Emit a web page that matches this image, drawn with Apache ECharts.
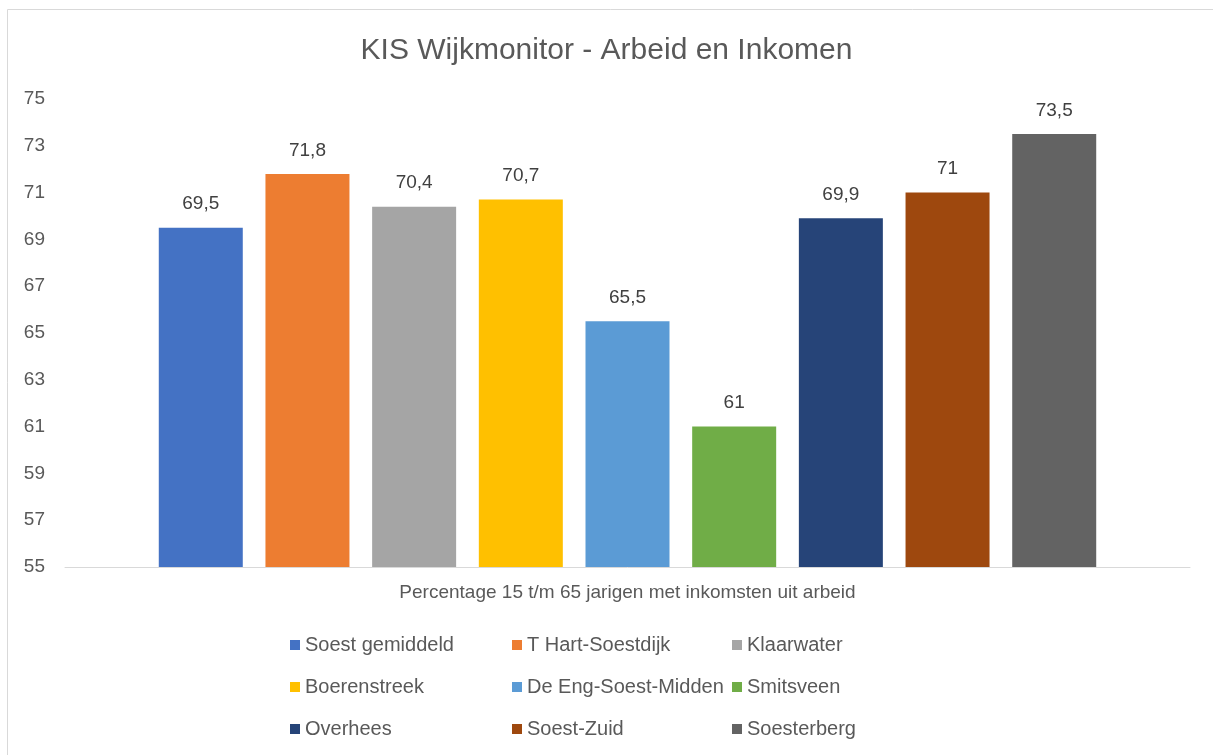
<!DOCTYPE html>
<html>
<head>
<meta charset="utf-8">
<script src="https://cdn.jsdelivr.net/npm/echarts@6/dist/echarts.min.js"></script>
<style>
  html, body { margin: 0; padding: 0; background: #fff; }
  #main { width: 1213px; height: 755px; }
</style>
</head>
<body>
<div id="main"></div>
<script>
// data
var categories = ['Percentage 15 t/m 65 jarigen met inkomsten uit arbeid'];
var wijken = ['Soest gemiddeld', 'T Hart-Soestdijk', 'Klaarwater', 'Boerenstreek', 'De Eng-Soest-Midden', 'Smitsveen', 'Overhees', 'Soest-Zuid', 'Soesterberg'];
var waarden = [69.5, 71.8, 70.4, 70.7, 65.5, 61, 69.9, 71, 73.5];
var yTicks = [55, 57, 59, 61, 63, 65, 67, 69, 71, 73, 75];

var kleuren = ['#4472C4', '#ED7D31', '#A5A5A5', '#FFC000', '#5B9BD5', '#70AD47', '#264478', '#9E480E', '#636363'];
var font = 'Liberation Sans';

var chartDom = document.getElementById('main');
var myChart = echarts.init(chartDom);

var series = wijken.map(function (naam, i) {
  return {
    name: naam,
    type: 'bar',
    data: [waarden[i]],
    barWidth: 84,
    barGap: '27%',
    itemStyle: { color: kleuren[i] },
    label: {
      show: true,
      position: 'top',
      distance: 14,
      color: '#404040',
      fontFamily: font,
      fontSize: 19,
      formatter: function (p) { return String(p.value).replace('.', ','); }
    }
  };
});

// legend in 3 kolommen
var kolommen = [[0, 3, 6], [1, 4, 7], [2, 5, 8]];
var kolomX = [285, 507, 727];
var legends = kolommen.map(function (k, j) {
  return {
    orient: 'vertical',
    left: kolomX[j],
    top: 630,
    itemWidth: 10,
    itemHeight: 10,
    itemGap: 22,
    icon: 'rect',
    data: k.map(function (i) { return wijken[i]; }),
    textStyle: { color: '#595959', fontFamily: font, fontSize: 20, lineHeight: 20 },
    selectedMode: false
  };
});

var option = {
  animation: false,
  color: kleuren,
  title: {
    text: 'KIS Wijkmonitor - Arbeid en Inkomen',
    left: 'center',
    top: 31,
    textStyle: { color: '#595959', fontFamily: font, fontSize: 30, fontWeight: 'normal' }
  },
  graphic: [{
    type: 'rect',
    shape: { x: 7.5, y: 9.5, width: 1220, height: 760 },
    style: { fill: 'none', stroke: '#d9d9d9', lineWidth: 1 },
    silent: true
  }],
  legend: legends,
  grid: { left: 65, right: 23, top: 99, bottom: 188 },
  xAxis: {
    type: 'category',
    data: categories,
    axisLine: { lineStyle: { color: '#d9d9d9' } },
    axisTick: { show: false },
    axisLabel: { color: '#595959', fontFamily: font, fontSize: 19, margin: 16 }
  },
  yAxis: {
    type: 'value',
    min: yTicks[0],
    max: yTicks[yTicks.length - 1],
    interval: 2,
    splitLine: { show: false },
    axisLine: { show: false },
    axisTick: { show: false },
    axisLabel: { color: '#595959', fontFamily: font, fontSize: 19, margin: 20 }
  },
  series: series
};

option && myChart.setOption(option);
</script>
</body>
</html>
